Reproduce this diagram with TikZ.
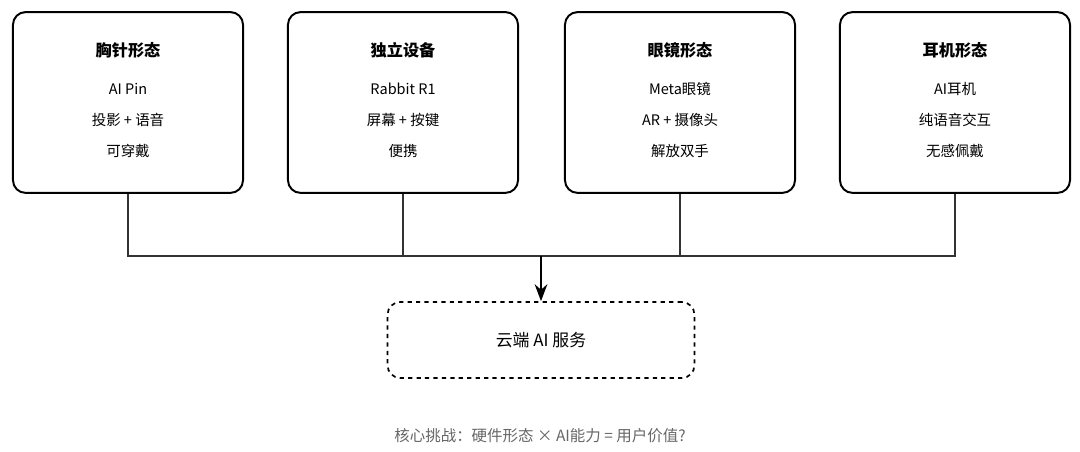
\documentclass[tikz,border=0pt]{standalone}
\usepackage{fontspec}
\setmainfont{Noto Sans CJK SC}
\usetikzlibrary{arrows.meta,positioning}
\tikzset{
  form/.style={draw, line width=1.4pt, rounded corners=9pt, minimum width=5.75cm, minimum height=4.52cm},
  cloud/.style={draw, line width=1.2pt, dashed, rounded corners=9pt, minimum width=7.67cm, minimum height=1.9cm, font=\fontsize{12}{14}\selectfont},
  title/.style={font=\bfseries\fontsize{11.5}{13}\selectfont},
  item/.style={font=\fontsize{10.3}{12}\selectfont},
  link/.style={line width=0.8pt, draw=black!80}
}
\begin{document}
\begin{tikzpicture}[x=0.025cm,y=-0.025cm]
\useasboundingbox (0,0) rectangle (1080,452);

% four device forms
\node[form] (pin) at (128,102.5) {};
\node[form] (rabbit) at (403,102.5) {};
\node[form] (glass) at (680,102.5) {};
\node[form] (ear) at (955,102.5) {};

\node[title] (pint) at (128,50) {胸针形态};
\node[item] at (128,89) {AI Pin};
\node[item] at (128,120) {投影 + 语音};
\node[item] at (128,151) {可穿戴};

\node[title] (rabbitt) at (403,50) {独立设备};
\node[item] at (403,89) {Rabbit R1};
\node[item] at (403,120) {屏幕 + 按键};
\node[item] at (403,151) {便携};

\node[title] (glasst) at (680,50) {眼镜形态};
\node[item] at (680,89) {Meta眼镜};
\node[item] at (680,120) {AR + 摄像头};
\node[item] at (680,151) {解放双手};

\node[title] (eart) at (955,50) {耳机形态};
\node[item] at (955,89) {AI耳机};
\node[item] at (955,120) {纯语音交互};
\node[item] at (955,151) {无感佩戴};

% cloud
\node[cloud] (cloud) at (541,340) {云端 AI 服务};

\coordinate (bus) at (541,256);
\draw[link] (pin.south) |- (bus);
\draw[link] (ear.south) |- (bus);
\draw[link] (rabbit.south) -- (rabbit.south |- bus);
\draw[link] (glass.south) -- (glass.south |- bus);
\draw[line width=1.6pt, -{Stealth[length=12pt,width=9pt]}] (bus) -- (cloud.north);

\node[font=\fontsize{11}{13}\selectfont, text=black!60] (note) at (540,436) {核心挑战：硬件形态 × AI能力 = 用户价值?};
\end{tikzpicture}
\end{document}
